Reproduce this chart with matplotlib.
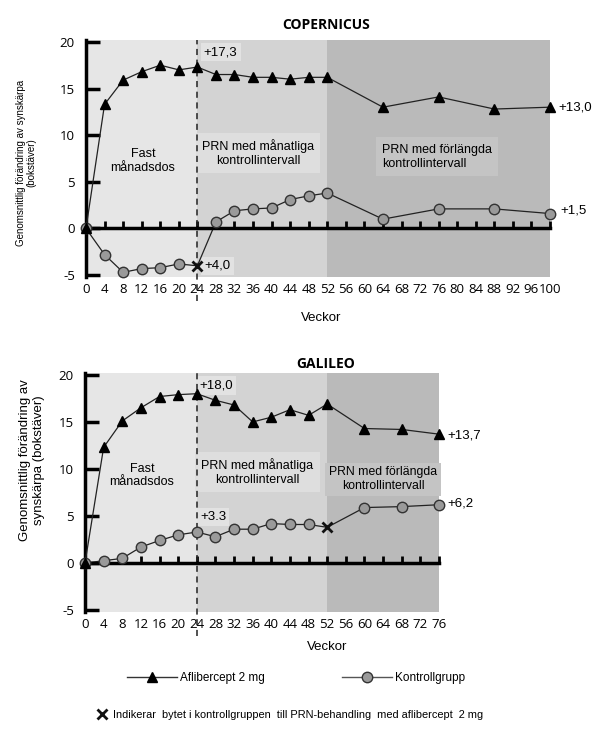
import matplotlib
matplotlib.use("Agg")
import matplotlib.pyplot as plt
from matplotlib.lines import Line2D
import numpy as np

plt.rcParams["axes.unicode_minus"] = False

# COPERNICUS data (weeks, mean change in letters)
cop_weeks = [0, 4, 8, 12, 16, 20, 24, 28, 32, 36, 40, 44, 48, 52, 64, 76, 88, 100]
cop_afl = [0, 13.3, 15.9, 16.8, 17.5, 17.0, 17.3, 16.5, 16.5, 16.2, 16.2, 16.0, 16.2, 16.2, 13.0, 14.1, 12.8, 13.0]
cop_ctrl = [0, -2.8, -4.7, -4.3, -4.2, -3.8, -4.0, 0.7, 1.9, 2.1, 2.2, 3.1, 3.5, 3.8, 1.0, 2.1, 2.1, 1.6]
cop_switch = 24

# GALILEO data
gal_weeks = [0, 4, 8, 12, 16, 20, 24, 28, 32, 36, 40, 44, 48, 52, 60, 68, 76]
gal_afl = [0, 12.3, 15.1, 16.5, 17.7, 17.9, 18.0, 17.3, 16.8, 15.0, 15.5, 16.3, 15.7, 16.9, 14.3, 14.2, 13.7]
gal_ctrl = [0, 0.25, 0.5, 1.7, 2.4, 3.0, 3.3, 2.8, 3.6, 3.6, 4.2, 4.1, 4.1, 3.8, 5.9, 6.0, 6.2]
gal_switch = 52

phase_edges = [0, 24, 52]
phase_colors = ["#e6e6e6", "#d3d3d3", "#bababa"]

TXT = "Liberation Sans"
NUM = "Open Sans"

fig = plt.figure(figsize=(6.13, 7.36), dpi=100)


def draw_panel(ax, weeks, afl, ctrl, switch, xmax):
    ax.set_xlim(0, xmax)
    ax.set_ylim(-5.2, 20.2)
    ax.set_facecolor("white")

    # phase shading
    edges = phase_edges + [xmax]
    for i, c in enumerate(phase_colors):
        ax.axvspan(edges[i], edges[i + 1], color=c, zorder=0, lw=0)

    ax.axvline(24, ymin=-0.1, ymax=1, color="#222222", lw=1.1,
               ls=(0, (4, 3)), clip_on=False, zorder=2)

    ax.plot(weeks, afl, color="#222222", lw=0.9, marker="^", ms=7.5,
            mfc="black", mec="black", zorder=5, clip_on=False)
    ax.plot(weeks, ctrl, color="#222222", lw=0.9, zorder=3, clip_on=False)
    w = np.array(weeks)
    c = np.array(ctrl)
    keep = w != switch
    ax.plot(w[keep], c[keep], ls="none", marker="o", ms=7.5,
            mfc="#9a9a9a", mec="#333333", mew=1, zorder=4, clip_on=False)
    ax.plot(w[~keep], c[~keep], ls="none", marker="x", ms=7,
            mec="#111111", mew=2, zorder=6, clip_on=False)

    # spines: left thick, bottom at y=0
    for s in ["top", "right"]:
        ax.spines[s].set_visible(False)
    ax.spines["left"].set_linewidth(2.5)
    ax.spines["left"].set_bounds(-5.2, 20.2)
    ax.spines["bottom"].set_position(("data", 0))
    ax.spines["bottom"].set_linewidth(2.5)
    ax.spines["bottom"].set_zorder(3)

    ax.set_yticks([-5, 0, 5, 10, 15, 20])
    ax.tick_params(axis="y", direction="in", length=10, width=2.5, pad=8,
                   labelsize=9.5, labelfontfamily=NUM)
    ax.set_xticks(np.arange(0, xmax + 1, 4))
    ax.tick_params(axis="x", direction="in", length=5, width=2,
                   labelbottom=False)

    sec = ax.secondary_xaxis("bottom")
    sec.set_xticks(np.arange(0, xmax + 1, 4))
    sec.tick_params(length=0, pad=4, labelsize=9.5, labelfontfamily=NUM)
    sec.spines["bottom"].set_visible(False)


box_light = dict(boxstyle="square,pad=0.25", fc="#e2e2e2", ec="none")
box_mid = dict(boxstyle="square,pad=0.5", fc="#dedede", ec="none")
box_dark = dict(boxstyle="square,pad=0.5", fc="#c4c4c4", ec="none")
box_dark_narrow = dict(boxstyle="square,pad=0.3", fc="#c4c4c4", ec="none")

# ---- COPERNICUS ----
ax1 = fig.add_axes([86 / 613, 1 - 277 / 736, 464 / 613, 237 / 736])
draw_panel(ax1, cop_weeks, cop_afl, cop_ctrl, cop_switch, 100)
ax1.text(12.3, 7.2, "Fast\nmånadsdos", ha="center", va="center",
         fontsize=9, family=TXT, linespacing=1.2)
ax1.text(37.1, 8.1, "PRN med månatliga\nkontrollintervall", ha="center",
         va="center", fontsize=9, family=TXT, linespacing=1.2, bbox=box_mid, zorder=1)
ax1.text(63.8, 7.7, "PRN med förlängda\nkontrollintervall", ha="left",
         va="center", fontsize=9, family=TXT, linespacing=1.2, bbox=box_dark, zorder=1)
ax1.text(25.4, 18.9, "+17,3", ha="left", va="center", fontsize=9.5,
         family=TXT, bbox=box_light, zorder=1)
ax1.text(25.6, -4.0, "+4,0", ha="left", va="center", fontsize=9.5,
         family=TXT, bbox=box_light, zorder=1)
ax1.text(101.7, 13.0, "+13,0", ha="left", va="center", fontsize=9.5,
         family=TXT, clip_on=False)
ax1.text(102.2, 1.9, "+1,5", ha="left", va="center", fontsize=9.5,
         family=TXT, clip_on=False)

fig.text(326 / 613, 1 - 25 / 736, "COPERNICUS", ha="center", va="center",
         fontsize=10, fontweight="bold", family=NUM)
fig.text(321 / 613, 1 - 318 / 736, "Veckor", ha="center", va="center",
         fontsize=9.5, family=TXT)
fig.text(26 / 613, 1 - 163 / 736,
         "Genomsnittlig förändring av synskärpa\n(bokstäver)",
         ha="center", va="center", rotation=90, fontsize=7, family=TXT,
         linespacing=1.1)

# ---- GALILEO ----
ax2 = fig.add_axes([85 / 613, 1 - 612 / 736, 354 / 613, 239 / 736])
draw_panel(ax2, gal_weeks, gal_afl, gal_ctrl, gal_switch, 76)
ax2.text(12.2, 9.3, "Fast\nmånadsdos", ha="center", va="center",
         fontsize=9, family=TXT, linespacing=1.2)
ax2.text(37.0, 9.7, "PRN med månatliga\nkontrollintervall", ha="center",
         va="center", fontsize=9, family=TXT, linespacing=1.2, bbox=box_mid, zorder=1)
ax2.text(64.0, 8.9, "PRN med förlängda\nkontrollintervall", ha="center",
         va="center", fontsize=8.8, family=TXT, linespacing=1.2,
         bbox=box_dark_narrow, zorder=1)
ax2.text(24.5, 18.9, "+18,0", ha="left", va="center", fontsize=9.5,
         family=TXT, bbox=box_light, zorder=1)
ax2.text(24.7, 4.9, "+3.3", ha="left", va="center", fontsize=9.5,
         family=TXT, bbox=box_light, zorder=1)
ax2.text(77.9, 13.6, "+13,7", ha="left", va="center", fontsize=9.5,
         family=TXT, clip_on=False)
ax2.text(77.9, 6.3, "+6,2", ha="left", va="center", fontsize=9.5,
         family=TXT, clip_on=False)

fig.text(326 / 613, 1 - 364 / 736, "GALILEO", ha="center", va="center",
         fontsize=10, fontweight="bold", family=NUM)
fig.text(327 / 613, 1 - 647 / 736, "Veckor", ha="center", va="center",
         fontsize=9.5, family=TXT)
fig.text(32 / 613, 1 - 460 / 736,
         "Genomsnittlig förändring av\nsynskärpa (bokstäver)",
         ha="center", va="center", rotation=90, fontsize=9.5, family=TXT,
         linespacing=1.2)

# ---- legend ----
h_afl = Line2D([], [], color="#333333", lw=1, marker="^", ms=7, mfc="black", mec="black")
h_ctrl = Line2D([], [], color="#555555", lw=1, marker="o", ms=7.5, mfc="#9a9a9a", mec="#333333")
fig.legend([h_afl, h_ctrl], ["Aflibercept 2 mg", "Kontrollgrupp"],
           loc="center left", bbox_to_anchor=(127 / 613, 1 - 678 / 736),
           ncol=2, frameon=False, handlelength=4.2, handletextpad=0.25,
           columnspacing=6.6, borderpad=0, borderaxespad=0,
           prop={"family": TXT, "size": 8.5})

h_x = Line2D([], [], ls="none", marker="x", ms=7, mec="#111111", mew=2)
fig.legend([h_x], ["Indikerar  bytet i kontrollgruppen  till PRN-behandling  med aflibercept  2 mg"],
           loc="center left", bbox_to_anchor=(97 / 613, 1 - 715 / 736),
           frameon=False, handlelength=1.0, handletextpad=0.5,
           borderpad=0, borderaxespad=0, prop={"family": TXT, "size": 7.9})

fig.savefig("out.png", dpi=100)
